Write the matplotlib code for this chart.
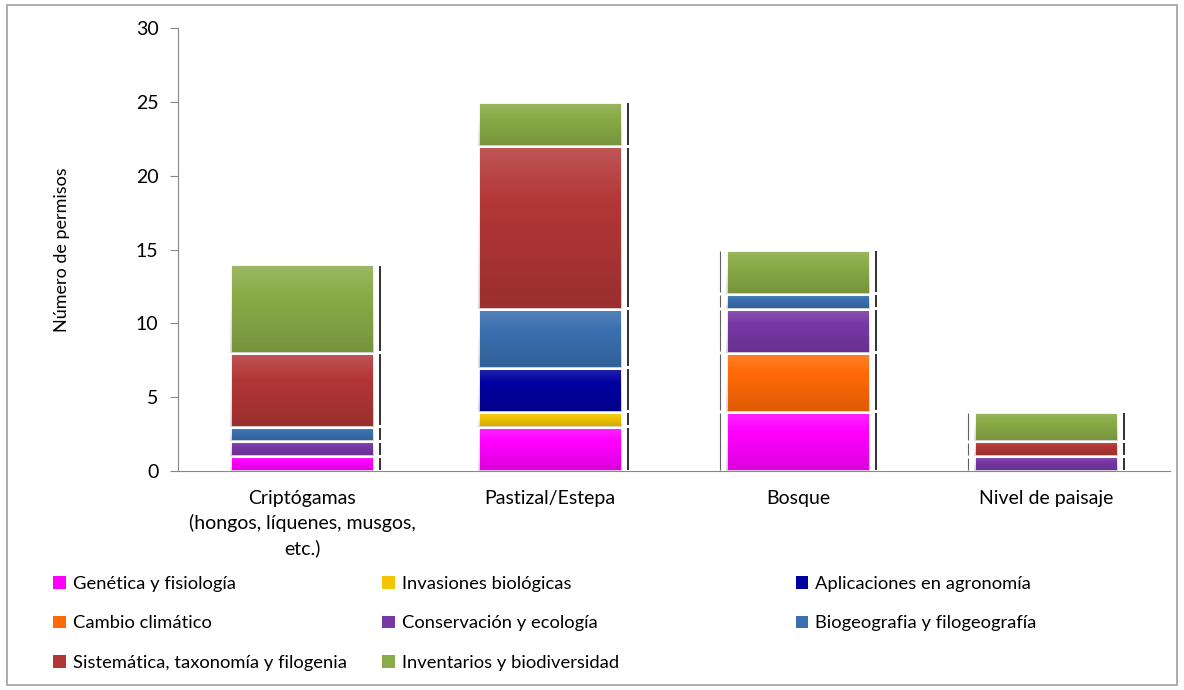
import numpy as np
import matplotlib
matplotlib.use("Agg")
import matplotlib.pyplot as plt
from matplotlib.patches import Rectangle

plt.rcParams['font.family'] = ['Lato', 'DejaVu Sans']

categories = ['Criptógamas\n(hongos, líquenes, musgos,\netc.)', 'Pastizal/Estepa', 'Bosque', 'Nivel de paisaje']

series_names = ['Genética y fisiología', 'Invasiones biológicas', 'Aplicaciones en agronomía',
                'Cambio climático', 'Conservación y ecología', 'Biogeografia y filogeografía',
                'Sistemática, taxonomía y filogenia', 'Inventarios y biodiversidad']
series_colors = ['#FF00FF', '#F2C500', '#0000A0', '#FF6A06', '#7838A6', '#3A70B0', '#B33636', '#8AAB47']

genetica = [1, 3, 4, 0]
invasiones = [0, 1, 0, 0]
agronomia = [0, 3, 0, 0]
cambio = [0, 0, 4, 0]
conservacion = [1, 0, 3, 1]
biogeografia = [1, 4, 1, 0]
sistematica = [5, 11, 0, 1]
inventarios = [6, 3, 3, 2]

series_values = [genetica, invasiones, agronomia, cambio, conservacion, biogeografia, sistematica, inventarios]

fig = plt.figure(figsize=(11.84, 6.9), dpi=100)
fig.patches.append(Rectangle((0.006, 0.007), 0.988, 0.986, transform=fig.transFigure,
                             fill=False, edgecolor='#A0A0A0', linewidth=1.2))
ax = fig.add_axes([0.1503, 0.3174, 0.8380, 0.642])

# light top / darker bottom overlay to imitate the bevelled Excel bars
grad = np.zeros((64, 1, 4))
t = np.linspace(0, 1, 64)
grad[:, 0, :3] = np.where(t[:, None] < 0.35, 1.0, 0.0)
grad[:, 0, 3] = np.where(t < 0.35, 0.16 * (1 - t / 0.35), 0.14 * (t - 0.35) / 0.65)

x = np.arange(len(categories))
width = 0.58
bottom = np.zeros(len(categories))
handles = []
for name, vals, col in zip(series_names, series_values, series_colors):
    vals = np.array(vals, dtype=float)
    bars = ax.bar(x, vals, width, bottom=bottom, color=col, edgecolor='white', linewidth=2, label=name, zorder=3)
    handles.append(bars)
    for i, b in enumerate(bars):
        if vals[i] <= 0:
            continue
        im = ax.imshow(grad, extent=(x[i] - width / 2, x[i] + width / 2, bottom[i], bottom[i] + vals[i]),
                       aspect='auto', zorder=3.5, interpolation='bilinear')
        im.set_clip_path(b)
        # shadow lines beside each segment
        ax.vlines(x[i] + width / 2 + 0.025, bottom[i] + 0.1, bottom[i] + vals[i] - 0.1,
                  color='#202020', linewidth=1.3, zorder=2)
        if i >= 2:
            ax.vlines(x[i] - width / 2 - 0.025, bottom[i] + 0.1, bottom[i] + vals[i] - 0.1,
                      color='#606060', linewidth=0.8, zorder=2)
    bottom += vals

ax.set_xlim(-0.5, len(categories) - 0.5)
ax.set_ylim(0, 30)
ax.set_yticks(range(0, 31, 5))
ax.set_xticks(x)
ax.set_xticklabels(categories, fontsize=14, linespacing=1.45)
ax.tick_params(axis='x', length=0, pad=14)
ax.tick_params(axis='y', direction='out', length=6, color='#888888', labelsize=14, pad=8)
for s in ['top', 'right']:
    ax.spines[s].set_visible(False)
for s in ['left', 'bottom']:
    ax.spines[s].set_color('#888888')
ax.set_ylabel('Número de permisos', fontsize=13, labelpad=47)

col_x = [0.045, 0.323, 0.672]
for c in range(3):
    idx = list(range(c, len(series_names), 3))
    leg = fig.legend([handles[i] for i in idx], [series_names[i] for i in idx],
                     loc='upper left', bbox_to_anchor=(col_x[c], 0.165),
                     frameon=False, fontsize=13.2, handlelength=0.7, handleheight=0.7,
                     handletextpad=0.35, labelspacing=1.27, borderaxespad=0, borderpad=0)
    for h in leg.legend_handles:
        h.set_linewidth(0)

fig.savefig('out.png', dpi=100)
